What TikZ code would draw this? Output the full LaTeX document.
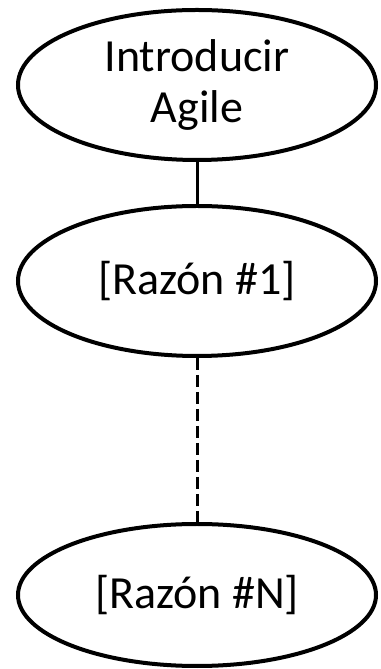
\documentclass[tikz,border=0pt]{standalone}
\usepackage{fontspec}
\setmainfont{Carlito}
\usetikzlibrary{shapes.geometric}
\tikzset{
	razon/.style={draw, ellipse, line width=4pt, minimum width=358pt, minimum height=150pt, inner sep=0pt, align=center, font=\fontsize{46}{51}\selectfont},
	enlace/.style={line width=3pt}
}
\begin{document}
\begin{tikzpicture}[x=1pt,y=1pt]
	\useasboundingbox (0,0) rectangle (380,669);
	\node[razon] (intro) at (197,584) {Introducir\\Agile};
	\node[razon] (r1) at (197,388) {[Razón \#1]};
	\node[razon, minimum height=142pt] (rn) at (197,74) {[Razón \#N]};
	\draw[enlace] (intro) -- (r1);
	\draw[enlace, dash pattern=on 12pt off 5pt] (r1) -- (rn);
\end{tikzpicture}
\end{document}
